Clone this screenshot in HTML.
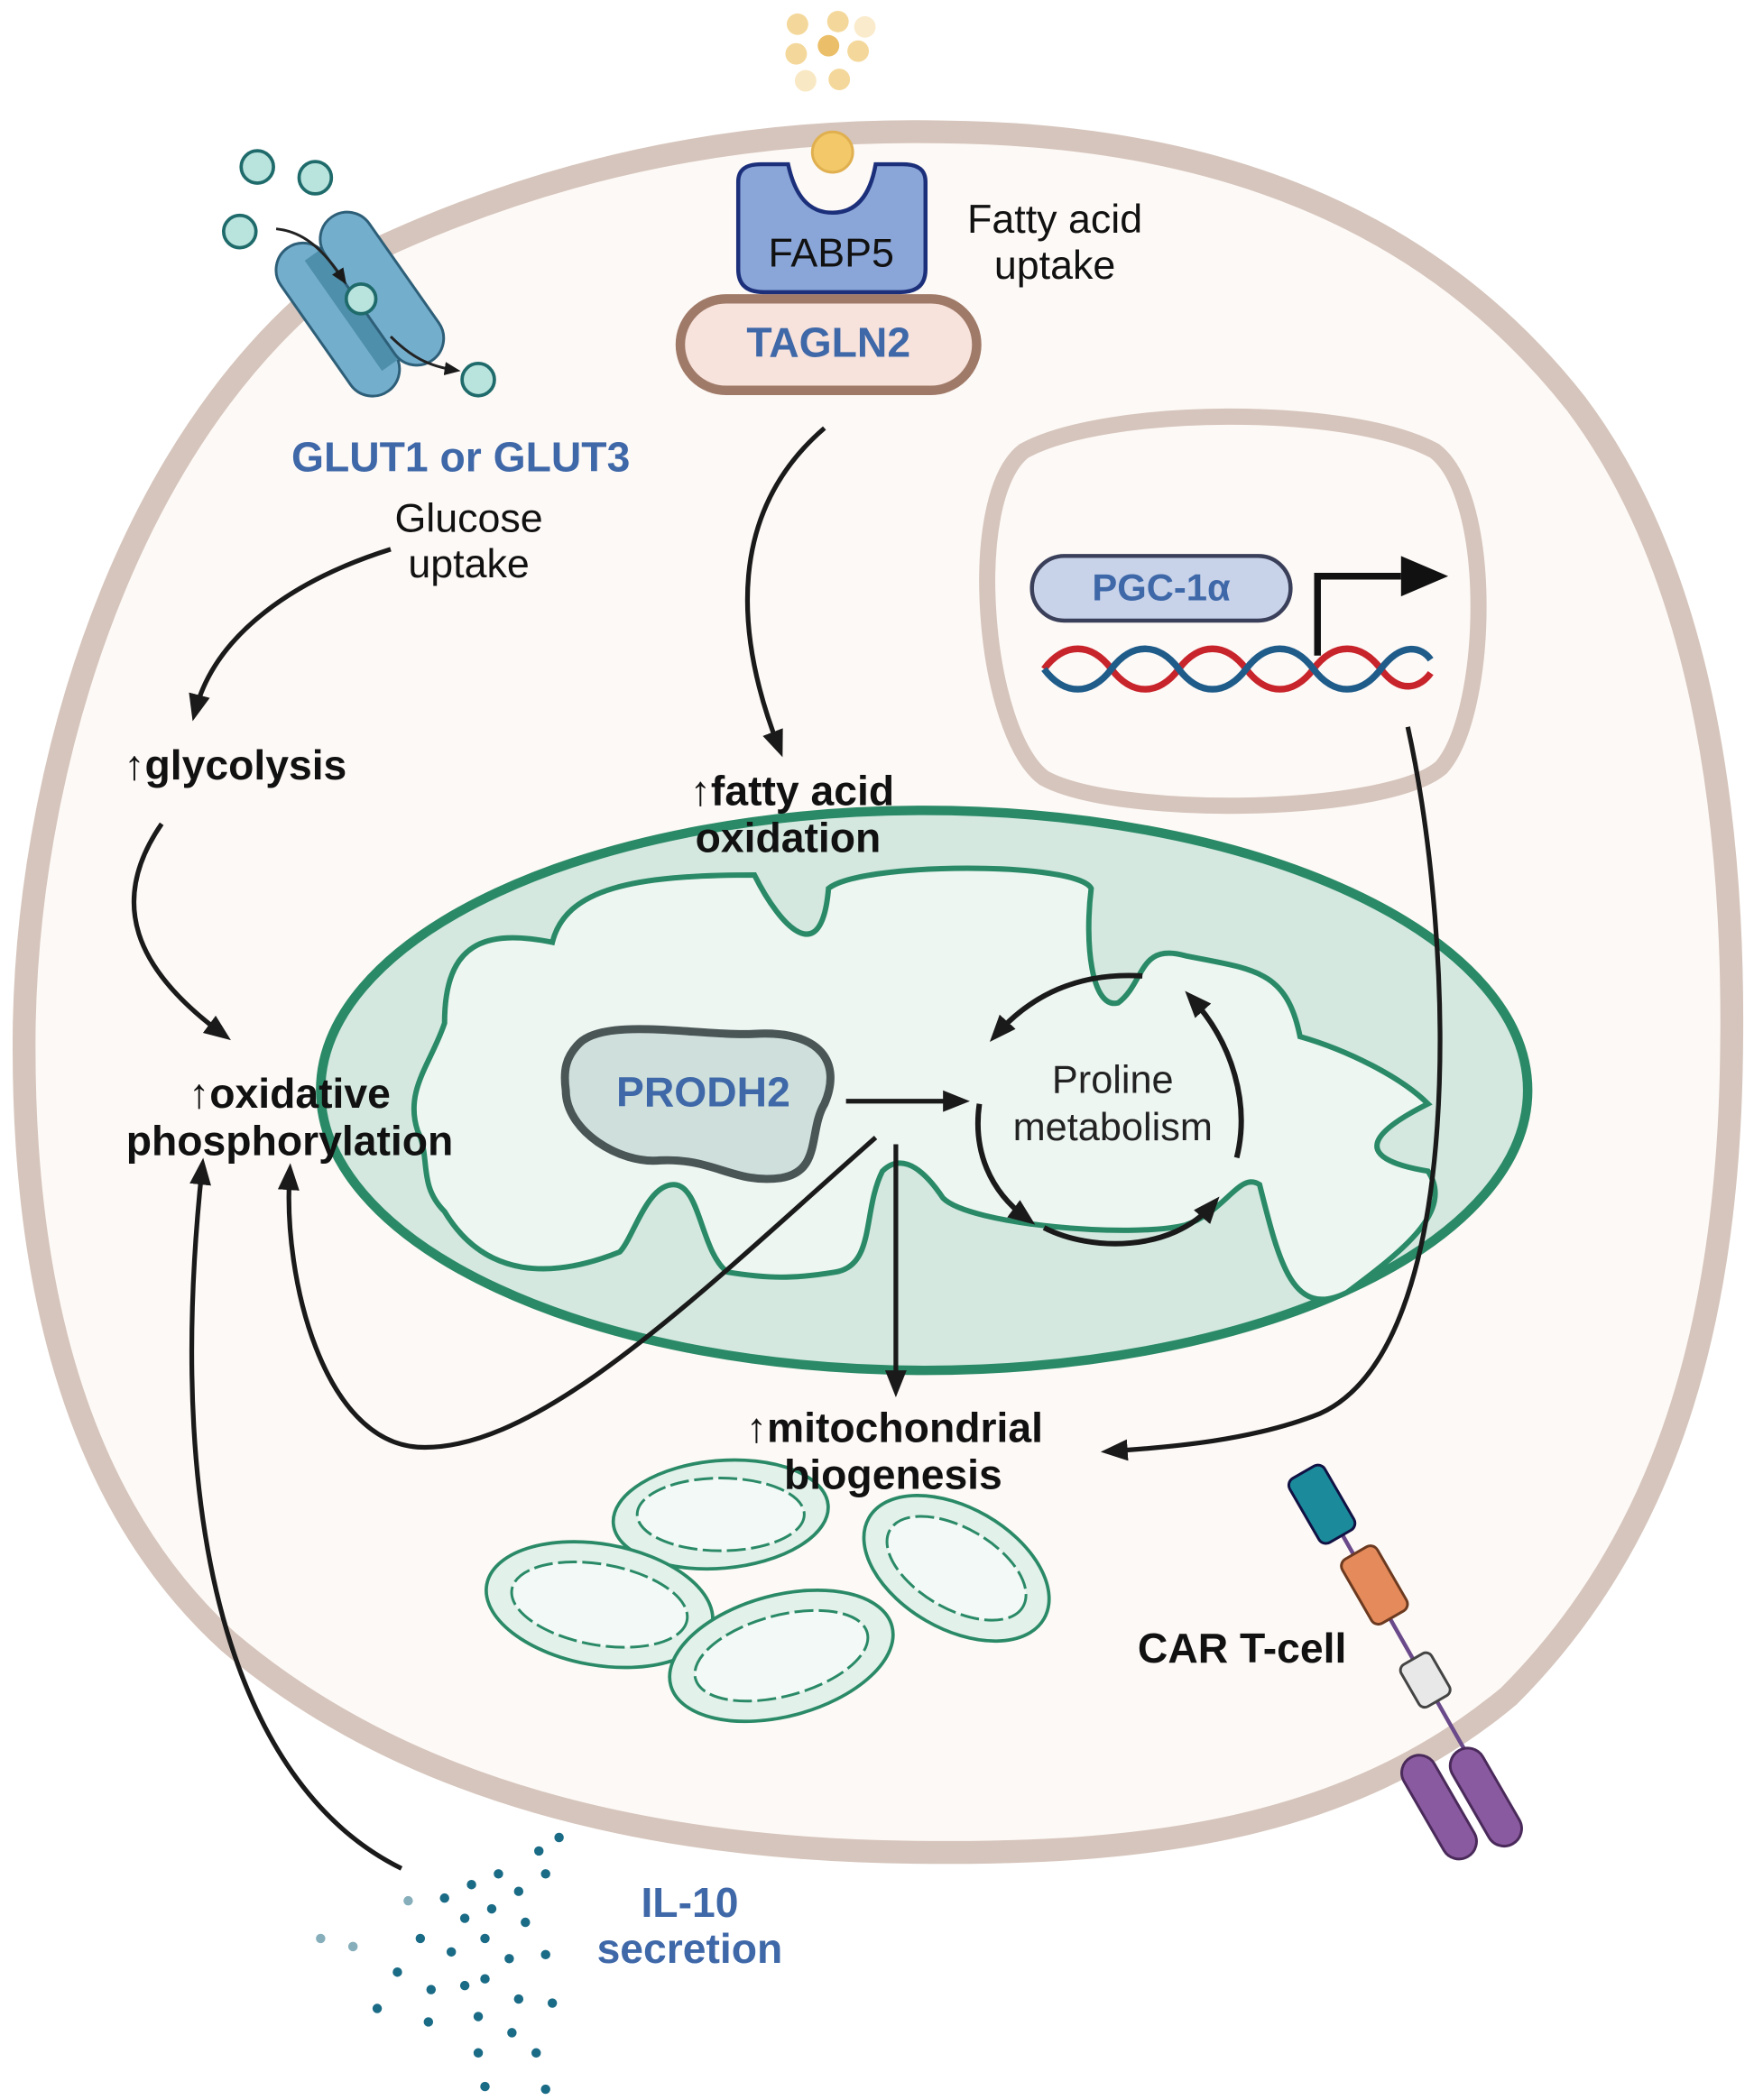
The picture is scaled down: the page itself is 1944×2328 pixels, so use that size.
<!DOCTYPE html>
<html><head><meta charset="utf-8"><style>
html,body{margin:0;padding:0;background:#fff;}
svg{display:block;}
text{font-family:"Liberation Sans",Arial,sans-serif;}
</style></head><body>
<svg width="1944" height="2328" viewBox="0 0 1302 1560" preserveAspectRatio="none" xmlns="http://www.w3.org/2000/svg">
<defs>
<marker id="ah" markerWidth="20" markerHeight="20" refX="12" refY="10" orient="auto" markerUnits="userSpaceOnUse">
<path d="M0,2 L20,10 L0,18 z" fill="#1a1a1a"/></marker>
<marker id="as" markerWidth="12" markerHeight="12" refX="8" refY="6" orient="auto" markerUnits="userSpaceOnUse">
<path d="M0,1 L12,6 L0,11 z" fill="#1a1a1a"/></marker>
</defs>
<rect width="1302" height="1560" fill="#fff"/>
<!-- cell -->
<path d="M280,185 C420,120 560,95 700,98 C900,100 1060,160 1170,300 C1260,420 1290,600 1285,800 C1280,1000 1230,1150 1120,1260 C1000,1360 850,1378 680,1376 C480,1374 300,1330 170,1220 C60,1120 15,960 18,760 C22,560 100,300 280,185 Z" fill="#fdf9f6" stroke="#d6c5bc" stroke-width="17"/>
<!-- nucleus -->
<path d="M760,335 C820,302 1000,300 1065,335 C1110,370 1105,530 1070,570 C1030,605 830,608 775,578 C730,545 715,370 760,335 Z" fill="#fdf9f6" stroke="#d6c5bc" stroke-width="12"/>
<!-- PGC-1a -->
<rect x="766" y="413" width="192" height="48" rx="24" fill="#c8d3ea" stroke="#3a3f5a" stroke-width="3"/>
<text x="862" y="446" font-size="28" font-weight="bold" fill="#3f68a8" text-anchor="middle">PGC-1α</text>
<path d="M978,487 V428 H1040" fill="none" stroke="#111" stroke-width="5"/>
<path d="M1040,413 L1075,428 L1040,443 z" fill="#111"/>
<path d="M775,497 C790,477 810,477 825,497 S860,517 875,497 S910,477 925,497 S960,517 975,497 S1010,477 1025,497 S1055,510 1062,500" fill="none" stroke="#c8242b" stroke-width="5"/>
<path d="M775,497 C790,517 810,517 825,497 S860,477 875,497 S910,517 925,497 S960,477 975,497 S1010,517 1025,497 S1055,480 1062,490" fill="none" stroke="#1f5c8a" stroke-width="5"/>
<!-- big mitochondrion -->
<ellipse cx="686" cy="810" rx="448" ry="208" fill="#d4e8df" stroke="#2a8a67" stroke-width="7"/>
<path d="M330,760 C330,700 360,690 410,700 C420,660 470,650 560,650 C580,690 610,720 615,660 C640,640 800,640 810,660 C805,700 810,750 830,745 C850,730 845,700 880,710 C930,720 955,720 965,770 C1000,780 1040,800 1060,820 C1020,840 1000,860 1060,870 C1080,900 1040,930 1000,960 C960,980 950,940 935,880 C920,870 910,900 880,910 C840,920 720,910 700,890 C680,860 665,860 655,870 C640,900 650,940 620,945 C590,950 570,950 540,945 C520,930 520,880 500,880 C480,880 470,920 460,930 C410,950 360,950 330,900 C310,880 320,860 310,840 C300,810 320,790 330,760 Z" fill="#eef6f2" stroke="#2a8a67" stroke-width="4"/>
<!-- PRODH2 -->
<path d="M430,775 C450,755 520,770 560,768 C610,765 625,790 612,820 C600,840 610,870 580,875 C545,880 530,860 490,862 C460,865 420,840 420,810 C418,795 420,785 430,775 Z" fill="#cfe0dc" stroke="#4a5656" stroke-width="6"/>
<text x="522" y="822" font-size="31" font-weight="bold" fill="#3f68a8" text-anchor="middle">PRODH2</text>
<line x1="628" y1="818" x2="712" y2="818" stroke="#1a1a1a" stroke-width="3.5" marker-end="url(#ah)"/>
<!-- proline cycle -->
<text x="826" y="812" font-size="29" fill="#222" text-anchor="middle">Proline</text>
<text x="826" y="847" font-size="29" fill="#222" text-anchor="middle">metabolism</text>
<path d="M848,725 C800,722 765,740 740,768" fill="none" stroke="#1a1a1a" stroke-width="4" marker-end="url(#ah)"/>
<path d="M918,860 C928,820 915,775 885,742" fill="none" stroke="#1a1a1a" stroke-width="4" marker-end="url(#ah)"/>
<path d="M775,912 C810,930 870,930 900,895" fill="none" stroke="#1a1a1a" stroke-width="4" marker-end="url(#ah)"/>
<path d="M727,820 C722,855 735,885 762,905" fill="none" stroke="#1a1a1a" stroke-width="4" marker-end="url(#ah)"/>
<!-- small mitochondria -->
<g fill="#e2f1ea" stroke="#2a8a67" stroke-width="2.5">
<ellipse cx="535" cy="1125" rx="80" ry="40" transform="rotate(-5 535 1125)"/>
<ellipse cx="445" cy="1192" rx="85" ry="45" transform="rotate(10 445 1192)"/>
<ellipse cx="580" cy="1230" rx="85" ry="45" transform="rotate(-15 580 1230)"/>
<ellipse cx="710" cy="1165" rx="75" ry="45" transform="rotate(30 710 1165)"/>
</g>
<g fill="#f3f9f6" stroke="#2a8a67" stroke-width="2" stroke-dasharray="14 4">
<ellipse cx="535" cy="1125" rx="62" ry="27"/>
<ellipse cx="445" cy="1192" rx="66" ry="30" transform="rotate(10 445 1192)"/>
<ellipse cx="580" cy="1230" rx="66" ry="30" transform="rotate(-15 580 1230)"/>
<ellipse cx="710" cy="1165" rx="57" ry="30" transform="rotate(30 710 1165)"/>
</g>
<!-- GLUT transporter -->
<g transform="rotate(-35 270 230)">
<rect x="230" y="160" width="40" height="130" rx="20" fill="#74aecd" stroke="#2e5f78" stroke-width="2"/>
<rect x="255" y="175" width="30" height="100" fill="#4e8fab"/>
<rect x="270" y="160" width="40" height="130" rx="20" fill="#74aecd" stroke="#2e5f78" stroke-width="2"/>
</g>
<g fill="#b9e3dd" stroke="#1f6b6b" stroke-width="2.5">
<circle cx="191" cy="124" r="12"/><circle cx="234" cy="132" r="12"/><circle cx="178" cy="172" r="12"/>
<circle cx="268" cy="222" r="11"/><circle cx="355" cy="282" r="12"/>
</g>
<path d="M205,170 C225,172 240,185 255,208" fill="none" stroke="#222" stroke-width="2" marker-end="url(#as)"/>
<path d="M290,250 C305,265 318,272 338,275" fill="none" stroke="#222" stroke-width="2" marker-end="url(#as)"/>
<text x="342" y="350" font-size="31" font-weight="bold" fill="#3f68a8" text-anchor="middle">GLUT1 or GLUT3</text>
<text x="348" y="395" font-size="30" fill="#111" text-anchor="middle">Glucose</text>
<text x="348" y="429" font-size="30" fill="#111" text-anchor="middle">uptake</text>
<!-- fatty acid droplets -->
<g fill="#f3d28a" opacity="0.85">
<circle cx="592" cy="18" r="8"/><circle cx="622" cy="16" r="8"/><circle cx="642" cy="20" r="8" opacity="0.5"/>
<circle cx="591" cy="40" r="8"/><circle cx="615" cy="34" r="8" fill="#e8b450"/><circle cx="637" cy="38" r="8"/>
<circle cx="598" cy="60" r="8" opacity="0.6"/><circle cx="623" cy="59" r="8"/>
</g>
<!-- TAGLN2 -->
<rect x="505" y="222" width="220" height="68" rx="34" fill="#f7e2dc" stroke="#a07a68" stroke-width="7"/>
<text x="615" y="265" font-size="31" font-weight="bold" fill="#3f68a8" text-anchor="middle">TAGLN2</text>
<!-- FABP5 -->
<path d="M548,135 C548,125 555,122 565,122 L585,122 C590,145 600,158 618,158 C636,158 646,145 650,122 L670,122 C680,122 687,125 687,135 L687,200 C687,212 680,217 668,217 L567,217 C555,217 548,212 548,200 Z" fill="#8aa6d8" stroke="#1b2f7a" stroke-width="3"/>
<circle cx="618" cy="113" r="15" fill="#f3c868" stroke="#e0b050" stroke-width="2"/>
<text x="617" y="198" font-size="30" fill="#111" text-anchor="middle">FABP5</text>
<text x="783" y="173" font-size="30" fill="#111" text-anchor="middle">Fatty acid</text>
<text x="783" y="207" font-size="30" fill="#111" text-anchor="middle">uptake</text>
<!-- labels -->
<text x="92" y="579" font-size="31" font-weight="bold" fill="#111">↑glycolysis</text>
<text x="588" y="598" font-size="31" font-weight="bold" fill="#111" text-anchor="middle">↑fatty acid</text>
<text x="585" y="633" font-size="31" font-weight="bold" fill="#111" text-anchor="middle">oxidation</text>
<text x="215" y="823" font-size="31" font-weight="bold" fill="#111" text-anchor="middle">↑oxidative</text>
<text x="215" y="858" font-size="31" font-weight="bold" fill="#111" text-anchor="middle">phosphorylation</text>
<text x="664" y="1071" font-size="31" font-weight="bold" fill="#111" text-anchor="middle">↑mitochondrial</text>
<text x="663" y="1106" font-size="31" font-weight="bold" fill="#111" text-anchor="middle">biogenesis</text>
<text x="922" y="1235" font-size="31" font-weight="bold" fill="#111" text-anchor="middle">CAR T-cell</text>
<text x="512" y="1424" font-size="31" font-weight="bold" fill="#3f68a8" text-anchor="middle">IL-10</text>
<text x="512" y="1458" font-size="31" font-weight="bold" fill="#3f68a8" text-anchor="middle">secretion</text>
<!-- arrows -->
<g fill="none" stroke="#1a1a1a" stroke-width="3.5">
<path d="M290,408 C220,430 160,470 145,528" marker-end="url(#ah)"/>
<path d="M612,318 C540,380 545,470 578,555" marker-end="url(#ah)"/>
<path d="M120,612 C80,670 100,720 165,768" marker-end="url(#ah)"/>
<path d="M650,845 C520,960 400,1080 310,1075 C240,1070 210,950 215,872" marker-end="url(#ah)"/>
<path d="M665,850 L665,1030" marker-end="url(#ah)"/>
<path d="M1045,540 C1080,700 1090,1000 980,1050 C930,1070 870,1075 825,1078" marker-end="url(#ah)"/>
<path d="M298,1388 C180,1330 120,1150 150,868" marker-end="url(#ah)"/>
</g>
<!-- IL-10 dots -->
<g fill="#1a6b86">
<circle cx="415" cy="1365" r="3.5"/><circle cx="400" cy="1375" r="3.5"/><circle cx="370" cy="1392" r="3.5"/><circle cx="405" cy="1392" r="3.5"/>
<circle cx="350" cy="1400" r="3.5"/><circle cx="385" cy="1405" r="3.5"/><circle cx="330" cy="1410" r="3.5"/><circle cx="365" cy="1418" r="3.5"/>
<circle cx="345" cy="1425" r="3.5"/><circle cx="390" cy="1428" r="3.5"/><circle cx="312" cy="1440" r="3.5"/><circle cx="360" cy="1440" r="3.5"/>
<circle cx="335" cy="1450" r="3.5"/><circle cx="378" cy="1455" r="3.5"/><circle cx="405" cy="1452" r="3.5"/><circle cx="295" cy="1465" r="3.5"/>
<circle cx="320" cy="1478" r="3.5"/><circle cx="345" cy="1475" r="3.5"/><circle cx="360" cy="1470" r="3.5"/><circle cx="385" cy="1485" r="3.5"/>
<circle cx="280" cy="1492" r="3.5"/><circle cx="410" cy="1488" r="3.5"/><circle cx="355" cy="1498" r="3.5"/><circle cx="318" cy="1502" r="3.5"/>
<circle cx="380" cy="1510" r="3.5"/><circle cx="355" cy="1525" r="3.5"/><circle cx="398" cy="1525" r="3.5"/><circle cx="360" cy="1550" r="3.5"/><circle cx="405" cy="1552" r="3.5"/>
</g>
<g fill="#86aebb"><circle cx="303" cy="1412" r="3.5"/><circle cx="238" cy="1440" r="3.5"/><circle cx="262" cy="1446" r="3.5"/></g>
<!-- CAR receptor -->
<line x1="985" y1="1120" x2="1110" y2="1340" stroke="#6a4a8a" stroke-width="3"/>
<rect x="966" y="1090" width="30" height="55" rx="6" fill="#1b8a9a" stroke="#114" stroke-width="2" transform="rotate(-30 981 1117)"/>
<rect x="1005" y="1150" width="30" height="55" rx="6" fill="#e58a5a" stroke="#6b3a20" stroke-width="2" transform="rotate(-30 1020 1177)"/>
<rect x="1045" y="1230" width="26" height="36" rx="5" fill="#e8e8e8" stroke="#444" stroke-width="2" transform="rotate(-30 1058 1248)"/>
<rect x="1055" y="1300" width="26" height="85" rx="13" fill="#8a5aa0" stroke="#4a2a5a" stroke-width="2" transform="rotate(-30 1068 1342)"/>
<rect x="1090" y="1295" width="26" height="80" rx="13" fill="#8a5aa0" stroke="#4a2a5a" stroke-width="2" transform="rotate(-30 1103 1335)"/>
</svg>
</body></html>
